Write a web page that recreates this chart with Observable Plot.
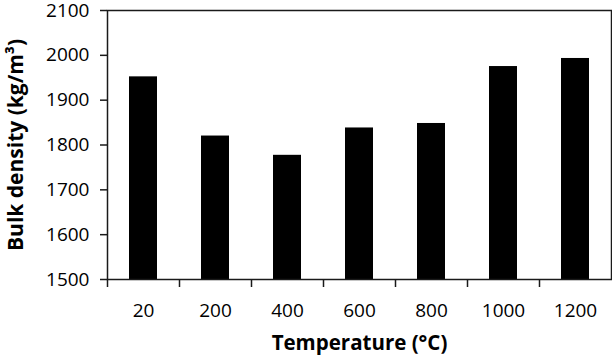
<!DOCTYPE html>
<html>
<head>
<meta charset="utf-8">
<script src="https://cdn.jsdelivr.net/npm/d3@7"></script>
<script src="https://cdn.jsdelivr.net/npm/@observablehq/plot@0.6"></script>
<style>
  html, body { margin: 0; padding: 0; background: #fff; }
</style>
</head>
<body>
<div id="chart"></div>
<script>
const categories = ["20", "200", "400", "600", "800", "1000", "1200"];
const density = [1952, 1820, 1777, 1838, 1848, 1975, 1993];
const yTicks = [1500, 1600, 1700, 1800, 1900, 2000, 2100];
const xTitle = "Temperature (°C)";
const yTitle = "Bulk density (kg/m³)";

const data = categories.map((t, i) => ({t, d: density[i]}));

const W = 612, H = 360, ML = 107, MR = 1, MT = 10, MB = 81;
const step = (W - ML - MR) / categories.length;

const chart = Plot.plot({
  width: W, height: H,
  marginLeft: ML, marginRight: MR, marginTop: MT, marginBottom: MB,
  style: {fontFamily: "Open Sans", fontSize: "19px", color: "#000", background: "#fff"},
  x: {type: "band", domain: categories, paddingInner: 0.61, paddingOuter: 0.305},
  y: {domain: [yTicks[0], yTicks[yTicks.length - 1]]},
  marks: [
    Plot.barY(data, {x: "t", y1: yTicks[0], y2: "d", fill: "#000"}),
    Plot.frame({stroke: "#1a1a1a", strokeWidth: 1.5}),
    Plot.axisY({ticks: yTicks, tickFormat: d3.format("d"), tickSize: 7, tickPadding: 11, label: null, strokeWidth: 1.5, stroke: "#1a1a1a"}),
    Plot.axisX({tickSize: 0, tickPadding: 24, label: null}),
    Plot.axisX({tickSize: 8, dx: -step / 2, tickFormat: () => "", label: null, strokeWidth: 1.5, stroke: "#1a1a1a"}),
    Plot.text([xTitle], {frameAnchor: "bottom", dy: 70, fontWeight: "bold", fontSize: 20.5, fill: "#000"}),
    Plot.text([yTitle], {frameAnchor: "left", textAnchor: "middle", dx: -91, rotate: -90, fontWeight: "bold", fontSize: 21, fill: "#000"})
  ]
});
document.getElementById("chart").appendChild(chart);
</script>
</body>
</html>
